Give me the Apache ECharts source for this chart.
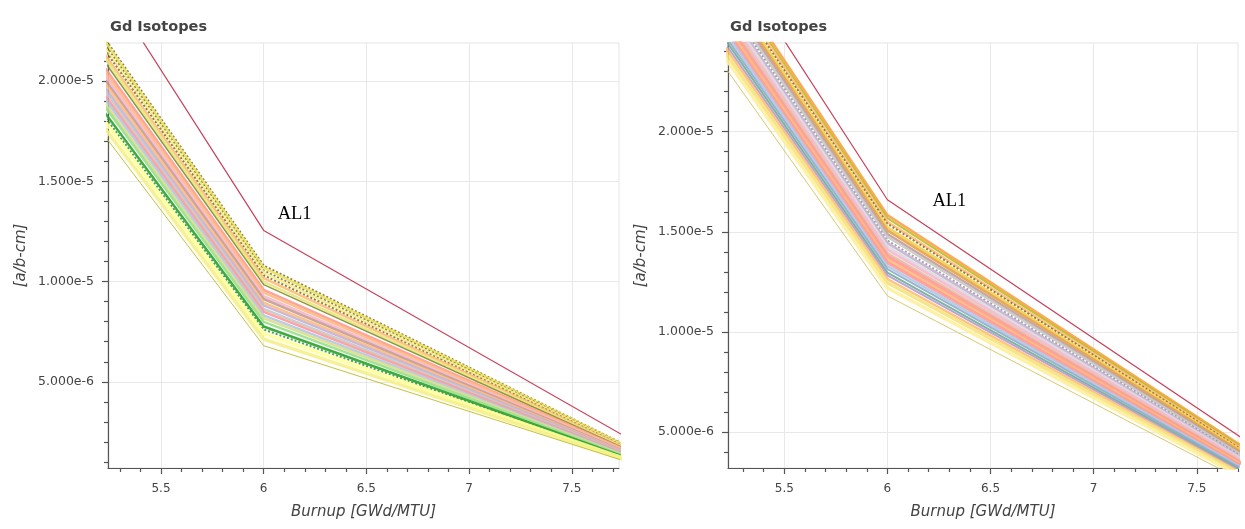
<!DOCTYPE html>
<html>
<head>
<meta charset="utf-8">
<title>Gd Isotopes</title>
<script src="https://cdn.jsdelivr.net/npm/echarts@6/dist/echarts.min.js"></script>
<style>
  html, body { margin: 0; padding: 0; background: #ffffff; }
  #chart { width: 1245px; height: 529px; }
</style>
</head>
<body>
<div id="chart"></div>
<script>
// Burnup steps (GWd/MTU) at which the Gd number densities were tallied
const burnup = [5.0, 6.0, 8.0];

// Number densities, in units of 1e-6 a/b-cm
const SCALE = 1e-6;

// Left panel: reference case AL1 and the perturbed cases
const leftAL1 = [28.55, 12.55, 0.87];
const leftCases = [
  [25.44, 10.80, 0.63], [25.30, 10.69, 0.62], [25.12, 10.55, 0.61], [24.97, 10.45, 0.60],
  [24.84, 10.31, 0.58], [24.60, 10.17, 0.57], [24.43, 9.99, 0.55], [24.20, 9.85, 0.54],
  [23.91, 9.59, 0.52], [23.69, 9.45, 0.50], [23.50, 9.27, 0.49], [23.28, 9.13, 0.47],
  [23.09, 8.95, 0.46], [22.87, 8.81, 0.44], [22.69, 8.63, 0.42], [22.46, 8.49, 0.41],
  [22.28, 8.31, 0.39], [22.05, 8.17, 0.38], [21.87, 7.99, 0.36], [21.55, 7.76, 0.34],
  [21.33, 7.61, 0.33], [21.10, 7.40, 0.31], [20.72, 7.13, 0.28], [20.32, 6.80, 0.25]
];

// Right panel: reference case AL1 and the perturbed cases
const rightAL1 = [32.50, 16.60, 2.75];
const rightCases = [
  [31.30, 15.83, 2.42], [31.08, 15.68, 2.37], [30.91, 15.50, 2.31], [30.74, 15.40, 2.27],
  [30.56, 15.22, 2.22], [30.34, 15.07, 2.16], [30.16, 14.89, 2.11], [29.94, 14.75, 2.06],
  [29.76, 14.57, 2.00], [29.54, 14.43, 1.95], [29.36, 14.25, 1.89], [29.14, 14.11, 1.84],
  [28.96, 13.93, 1.79], [28.74, 13.78, 1.73], [28.56, 13.60, 1.68], [28.34, 13.46, 1.62],
  [28.16, 13.28, 1.57], [27.94, 13.14, 1.52], [27.76, 12.96, 1.46], [27.54, 12.82, 1.41],
  [27.36, 12.64, 1.35], [27.09, 12.45, 1.29], [26.81, 12.19, 1.21], [26.30, 11.80, 1.07]
];

// Tick positions
const xMajorTicks = [5.5, 6, 6.5, 7, 7.5];
const xMinorTicks = [5.3, 5.4, 5.6, 5.7, 5.8, 5.9, 6.1, 6.2, 6.3, 6.4, 6.6, 6.7, 6.8, 6.9, 7.1, 7.2, 7.3, 7.4, 7.6, 7.7];
const yMajorTicks = [5e-6, 1e-5, 1.5e-5, 2e-5];
const yMinorTicks = [1e-6, 2e-6, 3e-6, 4e-6, 6e-6, 7e-6, 8e-6, 9e-6, 1.1e-5, 1.2e-5, 1.3e-5, 1.4e-5,
                     1.6e-5, 1.7e-5, 1.8e-5, 1.9e-5, 2.1e-5, 2.2e-5, 2.3e-5, 2.4e-5];

const TEXT = '#444444';
const SANS = 'DejaVu Sans';

// Line styles for the case series (colour, dash, width)
const leftStyles = [
  { c: '#8c6d31', t: 'dotted', w: 2 }, { c: '#e8e25a', w: 2.5 }, { c: '#8c6d31', t: 'dotted', w: 2 },
  { c: '#f2ee8a', w: 2.5 }, { c: '#8c6d31', t: 'dotted', w: 2 }, { c: '#ffbb78', w: 2.5 },
  { c: '#ebe47e', w: 2.5 }, { c: '#7d8f2a', w: 1.5 }, { c: '#ff9896', w: 2.5 },
  { c: '#ffbb78', w: 2.5 }, { c: '#f7b6d2', w: 2.5 }, { c: '#c49c94', w: 2.5 },
  { c: '#ffbb78', w: 2.5 }, { c: '#c5b0d5', w: 2.5 }, { c: '#c7c7c7', w: 2.5 },
  { c: '#ff9896', w: 2.5 }, { c: '#aec7e8', w: 2.5 }, { c: '#dbdb8d', w: 2.5 },
  { c: '#98df8a', w: 2.5 }, { c: '#2ca02c', w: 2.5 }, { c: '#2ca02c', t: 'dotted', w: 2 },
  { c: '#ffff99', w: 3.5 }, { c: '#f5f08a', w: 3.5 }, { c: '#bcbd22', w: 1 }
];
const rightStyles = [
  { c: '#ff9f4a', w: 2.5 }, { c: '#bcbd22', w: 2 }, { c: '#ffbb78', w: 2.5 },
  { c: '#8c6d31', t: 'dotted', w: 2 }, { c: '#f2d04a', w: 2.5 }, { c: '#e6a04a', w: 2.5 },
  { c: '#c49c94', w: 2.5 }, { c: '#c7c7c7', w: 2.5 }, { c: '#9a9a9a', t: 'dotted', w: 2 },
  { c: '#c5b0d5', w: 2.5 }, { c: '#dadada', w: 3 }, { c: '#f7b6d2', w: 2.5 },
  { c: '#e0c0a0', w: 2.5 }, { c: '#ff9896', w: 3.5 }, { c: '#ffbb78', w: 3 },
  { c: '#ff9896', w: 3 }, { c: '#aec7e8', w: 2.5 }, { c: '#8fabc8', w: 2 },
  { c: '#6fae96', w: 2 }, { c: '#b39bd0', w: 2 }, { c: '#ffbb78', w: 2.5 },
  { c: '#f6e27f', w: 3.5 }, { c: '#ffef99', w: 3.5 }, { c: '#d4c45a', w: 1 }
];

// Plot frames (pixels) and visible data ranges for the two panels
const panels = [
  { left: 108, top: 43, width: 511, height: 425, xMin: 5.242, xMax: 7.730, yMin: 0.7e-6, yMax: 2.19e-5,
    al1: leftAL1, cases: leftCases, styles: leftStyles, labelOffset: [9, -16] },
  { left: 728, top: 43, width: 510, height: 425, xMin: 5.227, xMax: 7.700, yMin: 3.2e-6, yMax: 2.443e-5,
    al1: rightAL1, cases: rightCases, styles: rightStyles, labelOffset: [40, 1] }
];

const toPoints = row => burnup.map((x, i) => [x, row[i] * SCALE]);
const inRange = (arr, lo, hi) => arr.filter(v => v >= lo && v <= hi);

const grid = [], xAxis = [], yAxis = [], series = [], title = [];

panels.forEach((p, k) => {
  const rect = { left: p.left, top: p.top, width: p.width, height: p.height };
  // main grid with frame
  grid.push(Object.assign({ show: true, borderColor: '#e5e5e5', borderWidth: 1, backgroundColor: 'transparent' }, rect));
  title.push({
    text: 'Gd Isotopes', left: p.left - 3, top: 15,
    textStyle: { fontFamily: SANS, fontWeight: 'bold', fontSize: 14.5, color: TEXT }
  });

  xAxis.push({
    type: 'value', gridIndex: k, min: p.xMin, max: p.xMax, position: 'bottom',
    name: 'Burnup [GWd/MTU]', nameLocation: 'middle', nameGap: 37,
    nameTextStyle: { fontFamily: SANS, fontStyle: 'italic', fontSize: 15, color: TEXT },
    axisLine: { show: true, onZero: false, lineStyle: { color: '#555', width: 1.2 } },
    axisTick: { show: true, customValues: xMajorTicks, length: 6, lineStyle: { color: '#555', width: 1.2 } },
    axisLabel: { customValues: xMajorTicks, formatter: v => String(v), margin: 15,
                 fontFamily: SANS, fontSize: 12, color: TEXT },
    splitLine: { show: true, lineStyle: { color: '#e8e8e8', width: 1 } }
  });
  yAxis.push({
    type: 'value', gridIndex: k, min: p.yMin, max: p.yMax, position: 'left',
    name: '[a/b-cm]', nameLocation: 'middle', nameGap: 79,
    nameTextStyle: { fontFamily: SANS, fontStyle: 'italic', fontSize: 15, color: TEXT },
    axisLine: { show: true, onZero: false, lineStyle: { color: '#555', width: 1.2 } },
    axisTick: { show: true, customValues: yMajorTicks, length: 6, lineStyle: { color: '#555', width: 1.2 } },
    axisLabel: { customValues: yMajorTicks, formatter: v => v.toExponential(3), margin: 14,
                 fontFamily: SANS, fontSize: 12.5, color: TEXT },
    splitLine: { show: true, lineStyle: { color: '#e8e8e8', width: 1 } }
  });

  p.cases.forEach((row, i) => {
    const s = p.styles[i];
    series.push({
      type: 'line', xAxisIndex: k, yAxisIndex: k, data: toPoints(row),
      showSymbol: false, silent: true, animation: false, z: 2,
      lineStyle: { color: s.c, width: s.w, type: s.t || 'solid', opacity: 0.9 }
    });
  });

  series.push({
    name: 'AL1', type: 'line', xAxisIndex: k, yAxisIndex: k, data: toPoints(p.al1),
    showSymbol: false, silent: true, animation: false, z: 3,
    lineStyle: { color: '#c8405a', width: 1.2 },
    markPoint: {
      symbol: 'circle', symbolSize: 0, silent: true, animation: false,
      label: { show: true, formatter: 'AL1', position: 'right', offset: p.labelOffset,
               fontFamily: 'Liberation Serif', fontSize: 18.5, color: '#000' },
      data: [{ coord: [burnup[1], p.al1[1] * SCALE] }]
    }
  });
});

// Overlay grids carrying the minor ticks only
panels.forEach((p, k) => {
  const g = grid.length;
  grid.push({ left: p.left, top: p.top, width: p.width, height: p.height, show: false });
  xAxis.push({
    type: 'value', gridIndex: g, min: p.xMin, max: p.xMax, position: 'bottom',
    axisLine: { show: false, onZero: false },
    axisTick: { show: true, customValues: inRange(xMinorTicks, p.xMin, p.xMax), length: 4,
                lineStyle: { color: '#555', width: 1.2 } },
    axisLabel: { show: false }, splitLine: { show: false }
  });
  yAxis.push({
    type: 'value', gridIndex: g, min: p.yMin, max: p.yMax, position: 'left',
    axisLine: { show: false, onZero: false },
    axisTick: { show: true, customValues: inRange(yMinorTicks, p.yMin, p.yMax), length: 4,
                lineStyle: { color: '#555', width: 1.2 } },
    axisLabel: { show: false }, splitLine: { show: false }
  });
});

const chart = echarts.init(document.getElementById('chart'), null, { renderer: 'canvas' });
chart.setOption({
  animation: false,
  backgroundColor: '#ffffff',
  title, grid, xAxis, yAxis, series
});
</script>
</body>
</html>
